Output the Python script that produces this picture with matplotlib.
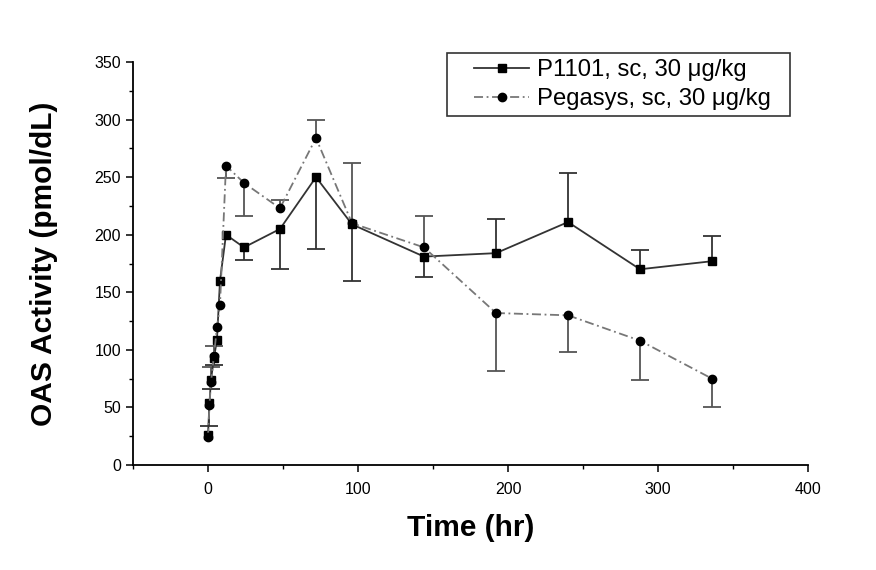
import numpy as np
import matplotlib
matplotlib.use("Agg")
import matplotlib.pyplot as plt
from matplotlib.ticker import MultipleLocator
from matplotlib.legend_handler import HandlerLine2D

plt.rcParams['font.family'] = ['Liberation Sans', 'DejaVu Sans']

time_hr = [0, 1, 2, 4, 6, 8, 12, 24, 48, 72, 96, 144, 192, 240, 288, 336]
p1101 = [26, 54, 74, 93, 109, 160, 200, 189, 205, 250, 209, 181, 184, 211, 170, 177]
pegasys = [24, 52, 72, 95, 120, 139, 260, 245, 223, 284, 210, 189, 132, 130, 108, 75]

nan = np.nan
p1101_err_low = [nan, 20, 8, 6, nan, nan, nan, 11, 35, 62, 49, 18, nan, nan, nan, nan]
p1101_err_high = [nan, nan, nan, nan, nan, nan, nan, nan, nan, nan, nan, nan, 30, 43, 17, 22]
pegasys_err_low = [nan, nan, nan, nan, nan, nan, 11, 29, nan, nan, nan, nan, 50, 32, 34, 25]
pegasys_err_high = [nan, nan, 13, 8, nan, nan, nan, nan, 7, 16, 52, 27, nan, nan, nan, nan]

labels = ['P1101, sc, 30 \u03bcg/kg', 'Pegasys, sc, 30 \u03bcg/kg']

fig = plt.figure(figsize=(8.76, 5.70), dpi=100)
ax = fig.add_axes([0.1518, 0.1842, 0.9224 - 0.1518, 0.8912 - 0.1842])


def draw_series(t, y, lo, hi, fmt, ls, lcolor, ecolor, label):
    t = np.asarray(t, float)
    y = np.asarray(y, float)
    lo = np.asarray(lo, float)
    hi = np.asarray(hi, float)
    lo0 = np.nan_to_num(lo, nan=0.0)
    hi0 = np.nan_to_num(hi, nan=0.0)
    cont = ax.errorbar(t, y, yerr=[lo0, hi0], fmt=fmt, ls=ls, color=lcolor,
                       mfc='black', mec='black', ms=6, lw=1.3,
                       ecolor=ecolor, elinewidth=1.3, capsize=0, zorder=3, label=label)
    caps_y = np.concatenate([y - lo, y + hi])
    caps_t = np.concatenate([t, t])
    ok = ~np.isnan(caps_y)
    ax.plot(caps_t[ok], caps_y[ok], ls='none', marker='_', ms=13, mew=1.3,
            color=ecolor, zorder=2)
    line = cont[0]
    line.set_label(label)
    return line


h1 = draw_series(time_hr, p1101, p1101_err_low, p1101_err_high, 's', '-',
                 '#333333', '#333333', labels[0])
h2 = draw_series(time_hr, pegasys, pegasys_err_low, pegasys_err_high, 'o',
                 (0, (5, 2, 1, 2)), '#777777', '#555555', labels[1])

ax.set_xlim(-50, 400)
ax.set_ylim(0, 350)
ax.xaxis.set_major_locator(MultipleLocator(100))
ax.xaxis.set_minor_locator(MultipleLocator(50))
ax.yaxis.set_major_locator(MultipleLocator(50))
ax.yaxis.set_minor_locator(MultipleLocator(25))
ax.tick_params(which='major', direction='out', length=5, width=1.1, labelsize=11.5, colors='black')
ax.tick_params(axis='x', which='major', pad=7.5)
ax.tick_params(which='minor', direction='out', length=3, width=1.0)
for s in ['top', 'right']:
    ax.spines[s].set_visible(False)
for s in ['left', 'bottom']:
    ax.spines[s].set_linewidth(1.3)

ax.set_xlabel('Time (hr)', fontsize=21.5, fontweight='bold', labelpad=12)
ax.set_ylabel('OAS Activity (pmol/dL)', fontsize=21.5, fontweight='bold', labelpad=26)

hmap = {h1: HandlerLine2D(xpad=0.88), h2: HandlerLine2D(xpad=0.88)}
leg = ax.legend(handles=[h1, h2], labels=[lab + '  ' for lab in labels], handler_map=hmap,
                numpoints=1, loc='upper right', bbox_to_anchor=(790 / 876, 1 - 53 / 570),
                bbox_transform=fig.transFigure, borderaxespad=0, fontsize=17.2, frameon=True,
                fancybox=False, edgecolor='black', handlelength=3.18,
                borderpad=0.25, labelspacing=0.3, handletextpad=0.33)
leg.get_frame().set_linewidth(1.2)

fig.savefig('out.png', dpi=100, facecolor='white')
